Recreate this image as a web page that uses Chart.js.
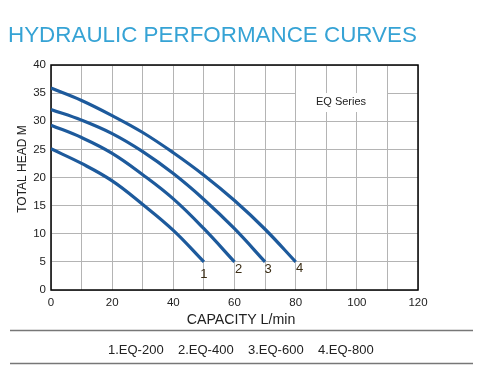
<!DOCTYPE html>
<html>
<head>
<meta charset="utf-8">
<script src="https://cdn.jsdelivr.net/npm/chart.js@4"></script>
<style>
  html, body { margin: 0; padding: 0; background: #fff; }
  #wrap { position: relative; width: 483px; height: 366px; }
</style>
</head>
<body>
<div id="wrap"><canvas id="chart" width="483" height="366"></canvas></div>
<script>
// capacity L/min
const capacity = [0, 10, 20, 30, 40, 50, 60, 70, 80];
// total head M per model
const eq200 = [25.1, 22.5, 19.4, 15.2, 10.6, 5];
const eq400 = [29.3, 27.1, 24.3, 20.5, 16.2, 10.9, 5];
const eq600 = [32.1, 30.2, 27.8, 24.6, 20.7, 16.1, 10.9, 5];
const eq800 = [35.9, 33.7, 31.0, 28.0, 24.4, 20.4, 15.9, 10.8, 5];
const curveLabels = ["1", "2", "3", "4"];
const models = ["1.EQ-200", "2.EQ-400", "3.EQ-600", "4.EQ-800"];

const FONT = "'Liberation Sans', Arial, sans-serif";
const BLUE = '#1d5a9c';

function toPoints(arr) {
    return arr.map((v, i) => ({ x: capacity[i], y: v }));
}

// label offsets next to curve ends
const labelOffsets = [[0, 13], [4, 8], [3, 8], [4, 7]];

const decor = {
    id: 'decor',
    beforeDatasetsDraw(chart) {
        const { ctx, chartArea: a } = chart;
        ctx.save();
        // white box behind series name
        ctx.fillStyle = '#fff';
        ctx.fillRect(296, 93, 91, 19);
        ctx.fillStyle = '#222';
        ctx.font = '11px ' + FONT;
        ctx.textAlign = 'center';
        ctx.textBaseline = 'middle';
        ctx.fillText('EQ Series', 341, 102);
        // frame
        ctx.strokeStyle = '#000';
        ctx.lineWidth = 1.5;
        ctx.strokeRect(a.left, a.top, a.right - a.left, a.bottom - a.top);
        ctx.restore();
    },
    afterDatasetsDraw(chart) {
        const { ctx } = chart;
        ctx.save();
        ctx.fillStyle = '#3a2c14';
        ctx.font = '13px ' + FONT;
        ctx.textAlign = 'center';
        ctx.textBaseline = 'middle';
        chart.data.datasets.forEach((ds, i) => {
            const pts = chart.getDatasetMeta(i).data;
            const p = pts[pts.length - 1];
            ctx.fillText(curveLabels[i], p.x + labelOffsets[i][0], p.y + labelOffsets[i][1]);
        });
        ctx.restore();
    },
    afterDraw(chart) {
        const { ctx } = chart;
        ctx.save();
        // title
        ctx.fillStyle = '#36a3d5';
        ctx.font = '22.4px ' + FONT;
        ctx.textAlign = 'left';
        ctx.textBaseline = 'alphabetic';
        ctx.fillText('HYDRAULIC PERFORMANCE CURVES', 8, 42);
        // axis titles
        ctx.fillStyle = '#222';
        ctx.font = '14.2px ' + FONT;
        ctx.textAlign = 'center';
        ctx.textBaseline = 'middle';
        ctx.fillText('CAPACITY L/min', 241, 320);
        ctx.font = '12px ' + FONT;
        ctx.save();
        ctx.translate(23, 169);
        ctx.rotate(-Math.PI / 2);
        ctx.fillText('TOTAL HEAD M', 0, 0);
        ctx.restore();
        // separators
        ctx.strokeStyle = '#777';
        ctx.lineWidth = 1.5;
        ctx.beginPath();
        ctx.moveTo(10, 330.5); ctx.lineTo(473, 330.5);
        ctx.moveTo(10, 363.5); ctx.lineTo(473, 363.5);
        ctx.stroke();
        // model legend
        ctx.fillStyle = '#222';
        ctx.font = '13px ' + FONT;
        ctx.textAlign = 'left';
        models.forEach((m, i) => ctx.fillText(m, 108 + i * 70, 350));
        ctx.restore();
    }
};

const ds = (data) => ({
    data: toPoints(data),
    borderColor: BLUE,
    borderWidth: 3.2,
    pointRadius: 0,
    tension: 0.4,
    fill: false
});

new Chart(document.getElementById('chart').getContext('2d'), {
    type: 'line',
    data: {
        datasets: [ds(eq200), ds(eq400), ds(eq600), ds(eq800)]
    },
    options: {
        responsive: false,
        animation: false,
        layout: { padding: { top: 65, right: 65, left: 0, bottom: 0 } },
        plugins: { legend: { display: false }, tooltip: { enabled: false } },
        scales: {
            x: {
                type: 'linear',
                min: 0, max: 120,
                afterFit(s) { s.height = 76; },
                border: { display: false },
                grid: { color: '#b4b4b4', lineWidth: 1, drawTicks: false },
                ticks: {
                    stepSize: 10,
                    padding: 6,
                    color: '#222',
                    font: { family: FONT, size: 11.5 },
                    maxRotation: 0,
                    autoSkip: false,
                    callback: (v) => (v % 20 === 0 ? v : '')
                }
            },
            y: {
                min: 0, max: 40,
                afterFit(s) { s.width = 51; },
                border: { display: false },
                grid: { color: '#b4b4b4', lineWidth: 1, drawTicks: false },
                ticks: {
                    stepSize: 5,
                    padding: 5,
                    color: '#222',
                    font: { family: FONT, size: 11.5 }
                }
            }
        }
    },
    plugins: [decor]
});
</script>
</body>
</html>
